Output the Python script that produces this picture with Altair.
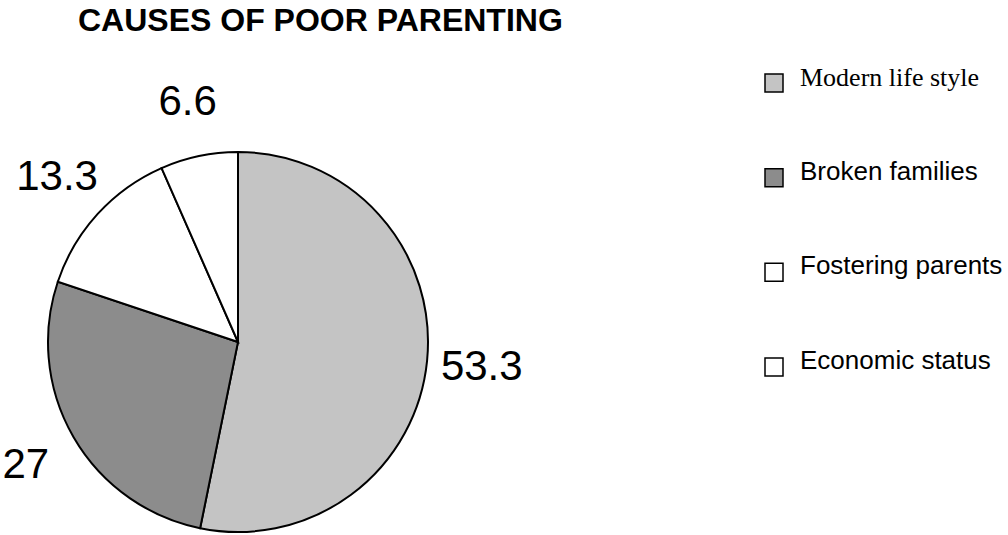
import altair as alt
import pandas as pd

# ---- data ----
categories = ["Modern life style", "Broken families", "Fostering parents", "Economic status"]
values = [53.3, 27, 13.3, 6.6]
fills = ["#c4c4c4", "#8c8c8c", "#ffffff", "#ffffff"]

df = pd.DataFrame({"cause": categories, "value": values, "idx": list(range(len(categories)))})

TOP = 40            # top padding (room for the title)
CX, CY = 238, 342 - TOP   # pie centre in view coordinates
R = 190

color = alt.Color("cause:N", scale=alt.Scale(domain=categories, range=fills), legend=None)
order = alt.Order("idx:Q")
base = alt.Chart(df)

pie = base.mark_arc(outerRadius=R, stroke="black", strokeWidth=2).encode(
    theta=alt.Theta("value:Q", stack=True),
    color=color,
    order=order,
    x=alt.value(CX),
    y=alt.value(CY),
)

labels = base.mark_text(radius=245, fontSize=42, font="Liberation Sans", color="black",
                        align="center", baseline="middle").encode(
    theta=alt.Theta("value:Q", stack=True),
    order=order,
    text=alt.Text("value:Q", format="~g"),
    x=alt.value(CX),
    y=alt.value(CY),
)

leg_y = alt.Y("cause:N", sort=categories,
              scale=alt.Scale(domain=categories, range=[83 - TOP, 367 - TOP], padding=0),
              axis=None)

leg_sym = base.mark_square(size=324, stroke="black", strokeWidth=1.5, opacity=1, filled=True).encode(
    x=alt.value(774), y=leg_y, color=color,
)

leg_txt_serif = base.transform_filter("datum.idx == 0").mark_text(
    align="left", baseline="alphabetic", dy=3, fontSize=26, font="Liberation Serif", color="black"
).encode(x=alt.value(800), y=leg_y, text="cause:N")

leg_txt_sans = base.transform_filter("datum.idx != 0").mark_text(
    align="left", baseline="alphabetic", dy=2, fontSize=26, font="Liberation Sans", color="black"
).encode(x=alt.value(800), y=leg_y, text="cause:N")

chart = alt.layer(pie, labels, leg_sym, leg_txt_serif, leg_txt_sans).properties(
    width=1008,
    height=535 - TOP,
    padding={"left": 0, "top": TOP, "right": 0, "bottom": 0},
    autosize="none",
    title=alt.TitleParams(
        "CAUSES OF POOR PARENTING", anchor="start", dx=78, fontSize=32,
        font="Liberation Sans", fontWeight="bold", color="black",
        baseline="alphabetic", offset=-23,
    ),
).configure_view(stroke=None)

chart.save("out.html", embed_options={"renderer": "svg", "actions": False})
